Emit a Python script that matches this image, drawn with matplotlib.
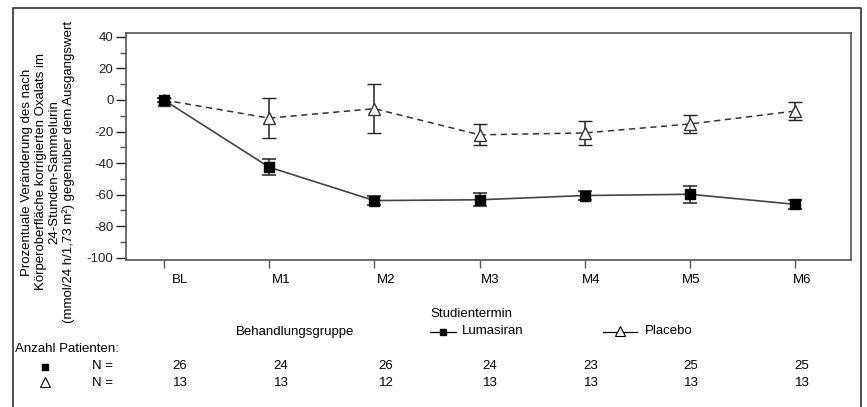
import matplotlib
matplotlib.use("Agg")
import matplotlib.pyplot as plt
from matplotlib.lines import Line2D

plt.rcParams['font.family'] = ['Liberation Sans', 'DejaVu Sans']
plt.rcParams['font.size'] = 9
plt.rcParams['axes.unicode_minus'] = False

# data
visits = ['BL', 'M1', 'M2', 'M3', 'M4', 'M5', 'M6']
luma_mean = [0, -42.6, -63.8, -63.3, -60.6, -59.8, -66.2]
luma_err = [1.5, 5.0, 3.0, 4.0, 2.6, 5.5, 2.8]
plac_mean = [0, -11.5, -5.5, -22.1, -20.9, -15.2, -7.0]
plac_err = [1.0, 12.5, 15.5, 6.6, 7.5, 5.8, 5.5]
n_luma = [26, 24, 26, 24, 23, 25, 25]
n_plac = [13, 13, 12, 13, 13, 13, 13]

W, H = 867, 407
fig = plt.figure(figsize=(W / 100, H / 100), dpi=100)


def fx(px):
    return px / W


def fy(py):
    return 1 - py / H


ax = fig.add_axes([fx(126), fy(260), fx(851) - fx(126), fy(33) - fy(260)])
x = list(range(len(visits)))
dark = '#333333'

ax.errorbar(x, plac_mean, yerr=plac_err, color=dark, linestyle=(0, (4, 3)), linewidth=1.1,
            marker='^', markersize=8, markerfacecolor='white', markeredgecolor=dark,
            markeredgewidth=1.0, ecolor='#222222', elinewidth=1.1, capsize=5, capthick=1.1, zorder=2)
ax.errorbar(x, luma_mean, yerr=luma_err, color='#444444', linestyle='-', linewidth=1.2,
            marker='s', markersize=7.5, markerfacecolor='black', markeredgecolor='black',
            ecolor='#222222', elinewidth=1.1, capsize=5, capthick=1.1, zorder=3)

ax.set_xlim(-0.36, 6.53)
ax.set_ylim(-101.5, 42.5)
ax.set_yticks(range(-100, 41, 20))
ax.set_yticks(range(-100, 41, 10), minor=True)
ax.set_xticks(x)
ax.set_xticklabels([])
ax.tick_params(axis='y', which='major', length=7, width=1, pad=2, labelsize=9.5, colors='#222222')
ax.tick_params(axis='y', which='minor', length=4, width=1, colors='#555555')
ax.tick_params(axis='x', which='major', length=6, width=1, colors='#555555')
for s in ax.spines.values():
    s.set_color('#555555')
    s.set_linewidth(1.2)

# x labels / table columns (slightly right of the ticks as in the reference)
col_px = [180, 281, 386, 490, 591, 691, 802]
for lab, cx, a, b in zip(visits, col_px, n_luma, n_plac):
    fig.text(fx(cx), fy(280), lab, ha='center', va='center', fontsize=9.5)
    fig.text(fx(cx), fy(366), str(a), ha='center', va='center', fontsize=9.5)
    fig.text(fx(cx), fy(382.5), str(b), ha='center', va='center', fontsize=9.5)

fig.text(fx(48), fy(172),
         'Prozentuale Veränderung des nach\n'
         'Körperoberfläche korrigierten Oxalats im\n'
         '24-Stunden-Sammelurin\n'
         '(mmol/24 h/1,73 m²) gegenüber dem Ausgangswert',
         rotation=90, ha='center', va='center', multialignment='center',
         fontsize=9.5, linespacing=1.2)

fig.text(fx(430), fy(314), 'Studientermin', ha='left', va='center', fontsize=9.5)
fig.text(fx(295), fy(331.5), 'Behandlungsgruppe', ha='center', va='center', fontsize=9.5)

# legend entries
fig.add_artist(Line2D([fx(430), fx(456)], [fy(331.5)] * 2, color='black', linewidth=0.9))
fig.add_artist(Line2D([fx(443)], [fy(331.5)], marker='s', markersize=4, color='black', linestyle='none'))
fig.text(fx(462), fy(331.5), 'Lumasiran', ha='left', va='center', fontsize=9.5)
fig.add_artist(Line2D([fx(603), fx(637)], [fy(331.5)] * 2, color='black', linewidth=0.9))
fig.add_artist(Line2D([fx(620)], [fy(331)], marker='^', markersize=7, markerfacecolor='white',
                      markeredgecolor='black', markeredgewidth=0.8, linestyle='none'))
fig.text(fx(645), fy(331.5), 'Placebo', ha='left', va='center', fontsize=9.5)

# patient counts table
fig.text(fx(15), fy(349), 'Anzahl Patienten:', ha='left', va='center', fontsize=9.5)
fig.add_artist(Line2D([fx(45)], [fy(366.5)], marker='s', markersize=4, color='black', linestyle='none'))
fig.add_artist(Line2D([fx(45)], [fy(382)], marker='^', markersize=7, markerfacecolor='white',
                      markeredgecolor='black', markeredgewidth=0.8, linestyle='none'))
fig.text(fx(92), fy(366), 'N =', ha='left', va='center', fontsize=9.5)
fig.text(fx(92), fy(382.5), 'N =', ha='left', va='center', fontsize=9.5)

# outer frame (bottom edge runs off the image)
fig.add_artist(Line2D([fx(12.5), fx(12.5), fx(860.5), fx(860.5)],
                      [fy(420), fy(7.5), fy(7.5), fy(420)], color='#333333', linewidth=1.2))

fig.savefig('out.png', dpi=100)
